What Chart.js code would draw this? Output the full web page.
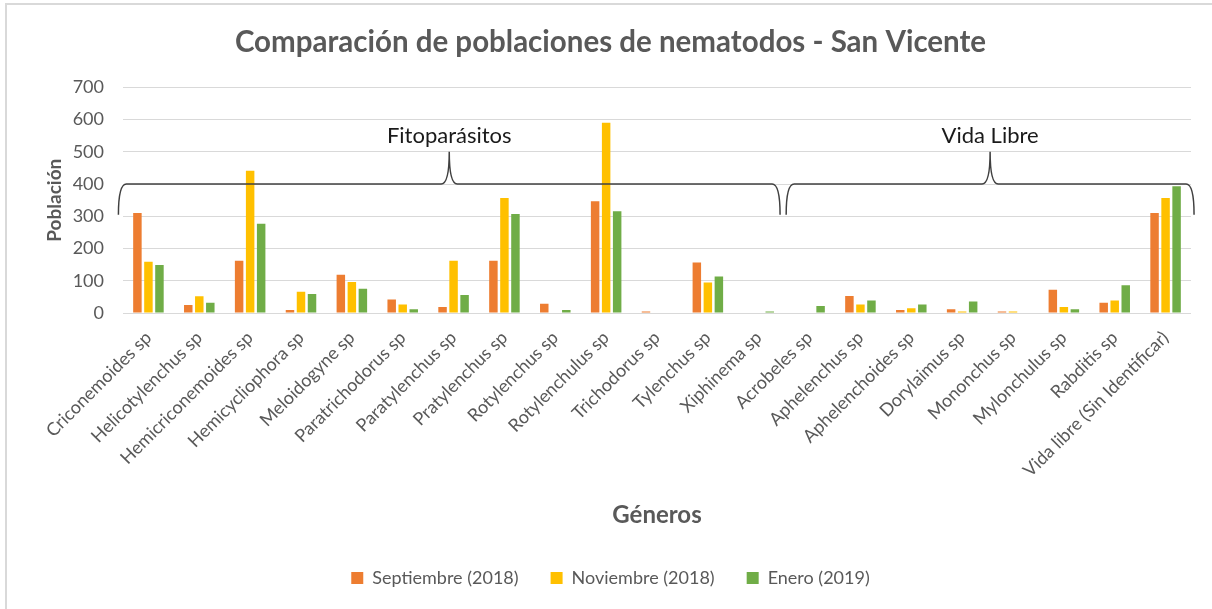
<!DOCTYPE html>
<html>
<head>
<meta charset="utf-8">
<script src="https://cdn.jsdelivr.net/npm/chart.js@4"></script>
<style>
  html, body { margin: 0; padding: 0; background: #fff; }
  #wrap { width: 1212px; height: 609px; }
</style>
</head>
<body>
<div id="wrap"><canvas id="chart" width="1212" height="609"></canvas></div>
<script>
// Géneros (eje X)
const generos = [
  "Criconemoides sp", "Helicotylenchus sp", "Hemicriconemoides sp", "Hemicycliophora sp",
  "Meloidogyne sp", "Paratrichodorus sp", "Paratylenchus sp", "Pratylenchus sp",
  "Rotylenchus sp", "Rotylenchulus sp", "Trichodorus sp", "Tylenchus sp", "Xiphinema sp",
  "Acrobeles sp", "Aphelenchus sp", "Aphelenchoides sp", "Dorylaimus sp", "Mononchus sp",
  "Mylonchulus sp", "Rabditis sp", "Vida libre (Sin Identificar)"
];

// Población por muestreo
const septiembre2018 = [310, 25, 162, 9, 119, 42, 19, 162, 29, 347, 5, 157, 0, 0, 53, 9, 12, 5, 72, 32, 310];
const noviembre2018  = [159, 52, 441, 66, 96, 26, 162, 357, 0, 590, 0, 95, 0, 0, 26, 15, 5, 5, 19, 39, 357];
const enero2019      = [149, 32, 277, 59, 75, 12, 56, 307, 9, 316, 0, 113, 5, 22, 39, 26, 36, 0, 12, 86, 393];

const yTicks = [0, 100, 200, 300, 400, 500, 600, 700];

// Grupos marcados con llaves: [etiqueta, índice inicial, índice final]
const grupos = [
  ["Fitoparásitos", -0.59, 12.42],
  ["Vida Libre", 12.54, 20.56]
];

const FONT = "Lato, 'Open Sans', sans-serif";
const GRIS = "#595959";

// fondo y marco del gráfico
const frame = {
  id: "frame",
  beforeDraw(chart) {
    const ctx = chart.ctx;
    ctx.save();
    ctx.fillStyle = "#fff";
    ctx.fillRect(0, 0, chart.width, chart.height);
    ctx.strokeStyle = "#d9d9d9";
    ctx.lineWidth = 2;
    ctx.beginPath();
    ctx.moveTo(6, chart.height);
    ctx.lineTo(6, 4);
    ctx.lineTo(chart.width, 4);
    ctx.stroke();
    ctx.restore();
  }
};

// llaves sobre las barras
const llaves = {
  id: "llaves",
  afterDatasetsDraw(chart) {
    const { ctx, scales: { x, y } } = chart;
    const step = x.getPixelForValue(1) - x.getPixelForValue(0);
    const px = (v) => x.getPixelForValue(0) + v * step;
    const yEnd = y.getPixelForValue(305);
    const yLine = y.getPixelForValue(400);
    const yTip = y.getPixelForValue(500);
    const r = 8;
    ctx.save();
    ctx.strokeStyle = "#404040";
    ctx.lineWidth = 1.5;
    grupos.forEach(([label, a, b]) => {
      const x1 = px(a), x2 = px(b), xm = (x1 + x2) / 2;
      ctx.beginPath();
      ctx.moveTo(x1, yEnd);
      ctx.quadraticCurveTo(x1, yLine, x1 + r, yLine);
      ctx.lineTo(xm - r, yLine);
      ctx.quadraticCurveTo(xm, yLine, xm, yTip);
      ctx.quadraticCurveTo(xm, yLine, xm + r, yLine);
      ctx.lineTo(x2 - r, yLine);
      ctx.quadraticCurveTo(x2, yLine, x2, yEnd);
      ctx.stroke();

      ctx.fillStyle = "#1a1a1a";
      ctx.font = "22px " + FONT;
      ctx.textAlign = "center";
      ctx.textBaseline = "middle";
      ctx.fillText(label, xm, y.getPixelForValue(550));
    });
    ctx.restore();
  }
};

const ctx = document.getElementById("chart").getContext("2d");
new Chart(ctx, {
  type: "bar",
  data: {
    labels: generos,
    datasets: [
      { label: "Septiembre (2018)", data: septiembre2018, backgroundColor: "#ED7D31" },
      { label: "Noviembre (2018)", data: noviembre2018, backgroundColor: "#FFC000" },
      { label: "Enero (2019)", data: enero2019, backgroundColor: "#70AD47" }
    ]
  },
  options: {
    responsive: false,
    animation: false,
    datasets: {
      bar: { categoryPercentage: 0.65, barPercentage: 0.77 }
    },
    layout: { padding: { left: 30, right: 21, top: 0, bottom: 12 } },
    plugins: {
      title: {
        display: true,
        text: "Comparación de poblaciones de nematodos - San Vicente",
        color: GRIS,
        font: { family: FONT, size: 29.5, weight: "bold" },
        padding: { top: 25, bottom: 27 }
      },
      legend: {
        position: "bottom",
        labels: {
          color: GRIS,
          font: { family: FONT, size: 18 },
          boxWidth: 12,
          boxHeight: 12,
          padding: 32
        }
      },
      tooltip: { enabled: false }
    },
    scales: {
      x: {
        grid: { display: false },
        border: { display: false },
        ticks: {
          color: GRIS,
          font: { family: FONT, size: 18 },
          maxRotation: 45,
          minRotation: 45,
          autoSkip: false,
          padding: 6
        },
        title: {
          display: true,
          text: "Géneros",
          color: GRIS,
          font: { family: FONT, size: 24, weight: "bold" },
          padding: { top: 4, bottom: 7 }
        },
        afterFit(scale) { scale.height = 224; }
      },
      y: {
        min: 0,
        max: 700,
        afterBuildTicks(scale) { scale.ticks = yTicks.map((v) => ({ value: v })); },
        grid: { color: "#d9d9d9", drawTicks: false },
        border: { display: false },
        ticks: {
          color: GRIS,
          font: { family: FONT, size: 18 },
          padding: 19
        },
        title: {
          display: true,
          text: "Población",
          color: GRIS,
          font: { family: FONT, size: 19, weight: "bold" },
          padding: { top: 13, bottom: 0 }
        },
        afterFit(scale) { scale.width = 93; }
      }
    }
  },
  plugins: [frame, llaves]
});
</script>
</body>
</html>
